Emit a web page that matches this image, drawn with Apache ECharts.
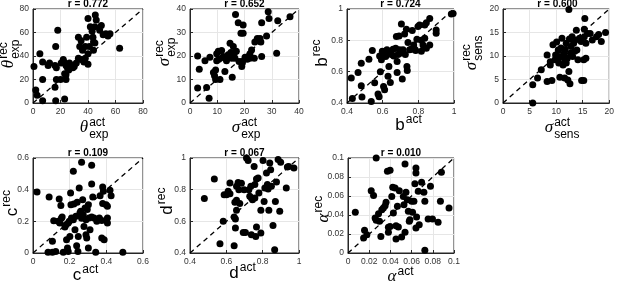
<!DOCTYPE html>
<html lang="en">
<head>
<meta charset="UTF-8">
<title>Actual vs recovered parameters</title>
<script src="https://cdn.jsdelivr.net/npm/echarts@6.0.0/dist/echarts.min.js"></script>
<style>
  html, body { margin: 0; padding: 0; background: #fff; }
  #chart { width: 617px; height: 283px; }
</style>
</head>
<body>
<div id="chart"></div>
<script>
// [actual, recovered] pairs
const thetaExpPts = [[0.7,31],[2,11],[3,6.5],[5,42],[7,35],[7,20],[7,2],[11,32],[12,34],[16,32],[16.5,48],[18,62],[17,30],[17,20],[16,13.5],[16.5,2],[20,20],[20.5,34],[22,37],[22.5,35],[23,25],[24,20],[24,24],[23,3.5],[24,32],[25,30],[26.5,34],[26,28],[28,32],[29,30],[30,31],[31.5,34],[33,38],[33,56],[34,48],[35,37],[36,45],[35,53],[37,35],[38,48],[39,56],[38,38],[40,33],[41,48],[40,72],[41.7,65],[43,61],[43.6,56],[44,52],[45,51],[45.3,75],[46,70.6],[45,65],[48.5,62],[49.7,66],[51,58],[53,59],[54.5,57],[56,59],[63,46.6],[44,45],[40,42]];
const sigmaExpPts = [[2.8,20],[3.4,14.4],[2.8,6.4],[6.1,6.6],[5.5,18],[7,2],[7.3,19.5],[8.6,13],[9,11.6],[9.4,14],[9.4,10],[9.8,21],[10.4,22],[9.8,18],[10.6,18.6],[11,10],[11.6,22.3],[12.2,19.8],[12.8,13.4],[12.8,19],[13.4,18],[14,20.5],[14.7,25.4],[15,21.5],[15.3,19],[15.5,11],[15.9,24],[16.2,21],[16.5,19],[16.7,37.7],[17,22],[17.7,34.2],[18,17.7],[18.7,29.7],[19,15.5],[19.2,17.7],[19.5,33.2],[19.5,29.7],[19.2,17],[20.2,19.5],[21,18.6],[22,21],[22,19],[22.6,22.6],[23.6,19],[23.8,26],[24.7,27.5],[25.7,27.5],[26,26],[26.3,34.2],[26.3,19.8],[28.1,28.5],[28.7,38.8],[29,36],[31.8,21.2],[32.2,35],[36.7,36.7]];
const bPts = [[0.424,0.559],[0.43,0.428],[0.462,0.595],[0.48,0.654],[0.48,0.51],[0.484,0.438],[0.523,0.68],[0.542,0.735],[0.536,0.41],[0.555,0.53],[0.574,0.457],[0.58,0.44],[0.583,0.70],[0.587,0.60],[0.593,0.676],[0.598,0.73],[0.605,0.506],[0.611,0.485],[0.611,0.718],[0.617,0.697],[0.624,0.74],[0.63,0.57],[0.635,0.633],[0.64,0.718],[0.643,0.531],[0.649,0.71],[0.658,0.743],[0.662,0.70],[0.673,0.75],[0.677,0.824],[0.681,0.665],[0.681,0.595],[0.686,0.71],[0.692,0.828],[0.695,0.74],[0.699,0.718],[0.705,0.905],[0.71,0.553],[0.714,0.74],[0.723,0.84],[0.727,0.71],[0.733,0.87],[0.736,0.633],[0.738,0.608],[0.742,0.786],[0.751,0.74],[0.76,0.743],[0.766,0.862],[0.774,0.77],[0.78,0.743],[0.785,0.735],[0.792,0.807],[0.798,0.888],[0.807,0.898],[0.817,0.73],[0.817,0.80],[0.826,0.77],[0.836,0.813],[0.836,0.898],[0.845,0.75],[0.845,0.913],[0.864,0.94],[0.864,0.77],[0.9,0.866],[0.9,0.845],[0.995,0.972],[0.985,0.968]];
const sigmaSensPts = [[5.6,0],[5.6,3.9],[6.5,5.3],[7.2,7.1],[8.3,10.2],[8.3,4.6],[8.9,8.8],[8.9,8.1],[9.2,4.8],[9.4,12.4],[9.8,9.2],[9.9,10.2],[10.1,13],[10.3,9.5],[10.4,11.3],[10.5,8.5],[10.7,5.5],[10.9,11.7],[11,9.9],[11.1,13.8],[11.3,8.1],[11.5,10.6],[11.6,5.3],[11.6,9.2],[11.7,11.4],[11.9,8.5],[11.9,12.7],[12.1,9.5],[12.2,4.9],[12.4,6.7],[12.4,19.9],[12.5,13.6],[12.6,4.1],[12.7,10.6],[12.8,12],[13,14.1],[13.1,9.9],[13.3,12.7],[13.5,11],[13.6,13.4],[13.8,15.5],[13.9,11.3],[14.1,9.2],[14.4,13.8],[14.7,13.1],[14.8,4.8],[15.2,4.8],[15.2,9.2],[15.3,14.1],[15.3,15.7],[15.4,18],[15.6,9.5],[15.6,12.7],[15.9,14.8],[16.4,14.8],[16.8,13.4],[17.6,14.1],[18,14.6],[18.5,13.1],[19.3,15]];
const cPts = [[0.022,0.385],[0.088,0.354],[0.082,0.004],[0.106,0.004],[0.106,0.074],[0.113,0.204],[0.124,0.01],[0.137,0.2],[0.143,0.341],[0.146,0.19],[0.152,0.3],[0.155,0.22],[0.159,0.227],[0.165,0.004],[0.174,0.164],[0.18,0.179],[0.183,0.084],[0.188,0.032],[0.192,0.01],[0.192,0.19],[0.198,0.2],[0.201,0.105],[0.205,0.379],[0.207,0.305],[0.21,0.221],[0.22,0.516],[0.22,0.21],[0.223,0.309],[0.229,0.147],[0.234,0.232],[0.238,0.046],[0.241,0.32],[0.245,0.01],[0.247,0.105],[0.252,0.41],[0.256,0.253],[0.26,0.263],[0.265,0.573],[0.265,0.22],[0.271,0.337],[0.274,0.242],[0.278,0.168],[0.284,0.284],[0.289,0.116],[0.289,0.21],[0.293,0.095],[0.296,0.274],[0.302,0.305],[0.302,0.032],[0.305,0.221],[0.311,0.147],[0.32,0.554],[0.32,0.436],[0.32,0.227],[0.326,0.354],[0.333,0.221],[0.342,0.004],[0.348,0.2],[0.362,0.221],[0.366,0.362],[0.375,0.206],[0.375,0.095],[0.38,0.312],[0.38,0.417],[0.384,0.39],[0.388,0.084],[0.399,0.305],[0.406,0.295],[0.406,0.221],[0.406,0.19],[0.42,0.396],[0.426,0.362],[0.49,0.004]];
const dPts = [[0.479,0.745],[0.534,0.867],[0.565,0.459],[0.583,0.6],[0.588,0.768],[0.601,0.768],[0.61,0.79],[0.62,0.842],[0.62,0.775],[0.643,0.446],[0.643,0.627],[0.647,0.72],[0.65,0.558],[0.65,0.615],[0.656,0.821],[0.656,0.733],[0.656,0.67],[0.665,0.846],[0.669,0.8],[0.674,0.712],[0.683,0.84],[0.693,0.53],[0.698,0.8],[0.705,0.53],[0.711,1.0],[0.72,0.985],[0.724,0.8],[0.729,0.758],[0.735,0.821],[0.738,0.747],[0.738,0.516],[0.744,0.737],[0.753,0.947],[0.757,0.832],[0.757,0.747],[0.762,0.505],[0.766,0.867],[0.766,0.564],[0.775,0.874],[0.779,0.779],[0.79,0.526],[0.79,0.67],[0.802,0.985],[0.808,0.726],[0.812,0.81],[0.821,0.905],[0.826,0.832],[0.83,0.804],[0.834,0.67],[0.839,0.968],[0.844,0.926],[0.848,0.821],[0.857,0.573],[0.866,0.421],[0.87,0.726],[0.876,0.848],[0.885,0.99],[0.894,0.663],[0.899,0.973],[0.93,0.81],[0.936,0.943],[0.943,0.947],[0.972,0.937]];
const alphaPts = [[0.0069,0.0428],[0.0147,0.0158],[0.0156,0.0239],[0.0178,0.0193],[0.0219,0.0656],[0.0241,0.0604],[0.0256,0.0368],[0.0266,0.1],[0.0266,0.0344],[0.0288,0.0414],[0.0297,0.0333],[0.031,0.0175],[0.0319,0.0456],[0.0334,0.0474],[0.035,0.0498],[0.0359,0.0533],[0.0372,0.086],[0.0381,0.027],[0.0381,0.0218],[0.0397,0.087],[0.0397,0.028],[0.0413,0.0596],[0.0422,0.0691],[0.0428,0.0421],[0.0444,0.0684],[0.0453,0.0288],[0.0453,0.0147],[0.0466,0.0491],[0.0475,0.0274],[0.0484,0.0656],[0.0506,0.0168],[0.0522,0.0596],[0.0528,0.0509],[0.0538,0.0937],[0.0538,0.0218],[0.0547,0.0639],[0.0559,0.0561],[0.0569,0.0439],[0.0578,0.0333],[0.0584,0.0351],[0.06,0.0544],[0.0609,0.0428],[0.0622,0.0544],[0.0631,0.073],[0.0641,0.0895],[0.0641,0.0842],[0.0641,0.0263],[0.0647,0.0379],[0.0663,0.0649],[0.0672,0.0298],[0.0694,0.0744],[0.0716,0.0639],[0.0725,0.0544],[0.0725,0.0028],[0.0756,0.0358],[0.0778,0.0702],[0.0797,0.0358],[0.085,0.0323],[0.0872,0.0544],[0.0881,0.0849],[0.0953,0.0474]];

const corrLabels = ['r = 0.772', 'r = 0.652', 'r = 0.724', 'r = 0.600', 'r = 0.109', 'r = 0.067', 'r = 0.010'];
const axisLimits = [[0, 80], [0, 40], [0.4, 1], [0, 20], [0, 0.6], [0.4, 1], [0, 0.1]];
const tickSteps = [20, 10, 0.2, 5, 0.2, 0.2, 0.02];

const panels = [
  { pts: thetaExpPts, grid: [33, 9, 110, 94], main: 'θ', greek: true, sub: 'exp', xl: [84, 128], yl: [9, 64] },
  { pts: sigmaExpPts, grid: [190, 9, 109, 94], main: 'σ', greek: true, sub: 'exp', xl: [236, 128], yl: [165, 62] },
  { pts: bPts, grid: [347, 9, 107, 94], main: 'b', greek: false, sub: '', xl: [400, 125], yl: [322, 62] },
  { pts: sigmaSensPts, grid: [503, 9, 109, 94], main: 'σ', greek: true, sub: 'sens', xl: [549, 128], yl: [472, 66] },
  { pts: cPts, grid: [33, 158, 110, 95], main: 'c', greek: false, sub: '', xl: [77, 275], yl: [12, 212] },
  { pts: dPts, grid: [190, 158, 109, 95], main: 'd', greek: false, sub: '', xl: [234, 273], yl: [167, 210] },
  { pts: alphaPts, grid: [348, 158, 106, 95], main: 'α', greek: true, sub: '', xl: [392, 277], yl: [324, 218] }
];

const ink = '#262626';
const sans = '"Liberation Sans", Arial, sans-serif';
const ctx = document.createElement('canvas').getContext('2d');
function textW(font, s) { ctx.font = font; return ctx.measureText(s).width; }

function axisName(p, sup, pos, vertical) {
  const mainFont = p.greek ? 'italic 17px "Liberation Serif", serif' : '17px ' + sans;
  const smallFont = '12px ' + sans;
  const w = textW(mainFont, p.main);
  const kids = [
    { type: 'text', style: { text: p.main, x: 0, y: 0, font: mainFont, fill: '#000', align: 'center', verticalAlign: 'middle', textAlign: 'center', textVerticalAlign: 'middle' } },
    { type: 'text', style: { text: sup, x: w / 2 + 1, y: -5, font: smallFont, fill: '#000', align: 'left', verticalAlign: 'middle', textAlign: 'left', textVerticalAlign: 'middle' } }
  ];
  if (p.sub) {
    kids.push({ type: 'text', style: { text: p.sub, x: w / 2 + 1, y: 7, font: smallFont, fill: '#000', align: 'left', verticalAlign: 'middle', textAlign: 'left', textVerticalAlign: 'middle' } });
  }
  return { type: 'group', x: pos[0], y: pos[1], rotation: vertical ? Math.PI / 2 : 0, children: kids };
}

const grids = [], xAxes = [], yAxes = [], series = [], graphics = [];
panels.forEach(function (p, i) {
  const lim = axisLimits[i];
  grids.push({ left: p.grid[0], top: p.grid[1], width: p.grid[2], height: p.grid[3], show: true, borderColor: ink, borderWidth: 1, backgroundColor: '#fff' });
  const ax = {
    gridIndex: i, type: 'value', min: lim[0], max: lim[1], interval: tickSteps[i],
    axisLine: { show: true, onZero: false, lineStyle: { color: ink, width: 1 } },
    axisTick: { show: true, inside: true, length: 3, lineStyle: { color: ink } },
    axisLabel: { fontSize: 8.5, color: '#333', fontFamily: sans, margin: 4, showMinLabel: true, showMaxLabel: true },
    splitLine: { show: true, lineStyle: { color: '#e6e6e6', width: 1 } }
  };
  xAxes.push(Object.assign({}, ax));
  yAxes.push(Object.assign({}, ax));
  series.push({
    type: 'scatter', xAxisIndex: i, yAxisIndex: i, data: p.pts,
    symbol: 'circle', symbolSize: 7, itemStyle: { color: '#000', opacity: 1 }
  });
  series.push({
    type: 'line', xAxisIndex: i, yAxisIndex: i, data: [[lim[0], lim[0]], [lim[1], lim[1]]],
    symbol: 'none', lineStyle: { color: '#000', width: 1.3, type: [5, 4] }, z: 3
  });
  graphics.push({
    type: 'text', style: {
      text: corrLabels[i], x: p.grid[0] + p.grid[2] / 2, y: p.grid[1] - 5,
      font: 'bold 10px ' + sans, fill: '#000', align: 'center', verticalAlign: 'middle', textAlign: 'center', textVerticalAlign: 'middle'
    }
  });
  graphics.push(axisName(p, 'act', p.xl, false));
  graphics.push(axisName(p, 'rec', p.yl, true));
});

const chart = echarts.init(document.getElementById('chart'), null, { renderer: 'canvas' });
chart.setOption({
  animation: false,
  backgroundColor: '#fff',
  grid: grids,
  xAxis: xAxes,
  yAxis: yAxes,
  series: series,
  graphic: graphics
});
</script>
</body>
</html>
